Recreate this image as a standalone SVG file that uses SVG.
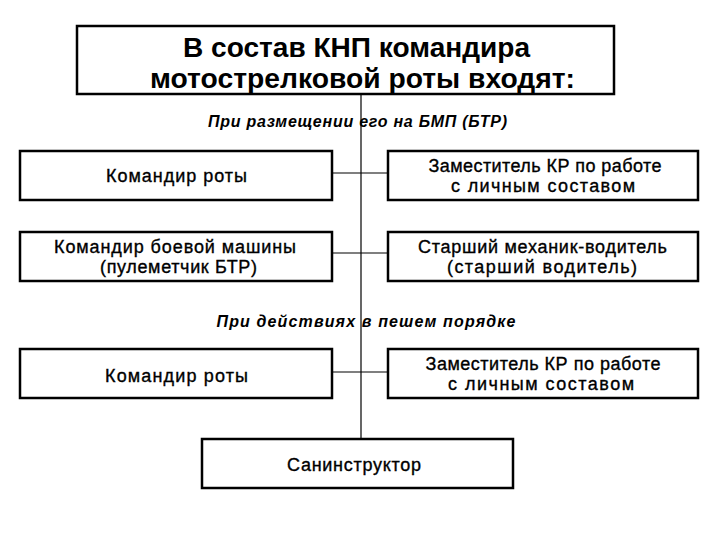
<svg xmlns="http://www.w3.org/2000/svg" width="720" height="540" viewBox="0 0 720 540">
<style>
.box{fill:#fff;stroke:#000;stroke-width:2.5}
.t{font-family:"Liberation Sans",Arial,sans-serif;font-size:18px;fill:#000;stroke:#000;stroke-width:0.35;text-anchor:middle}
.title{font-family:"Liberation Sans",Arial,sans-serif;font-size:28px;font-weight:bold;fill:#000;text-anchor:middle}
.lbl{font-family:"Liberation Sans",Arial,sans-serif;font-size:16px;font-style:italic;font-weight:bold;fill:#000;text-anchor:middle}
.c{stroke:#000;stroke-width:1.2;fill:none}
</style>
<rect width="720" height="540" fill="#fff"/>
<g id="connectors">
<line class="c" x1="361" y1="93" x2="361" y2="439"/>
<line class="c" x1="332" y1="173" x2="388" y2="173"/>
<line class="c" x1="332" y1="253" x2="388" y2="253"/>
<line class="c" x1="332" y1="372" x2="388" y2="372"/>
</g>
<g id="title">
<rect class="box" x="77" y="26" width="537" height="68"/>
<text class="title" x="356.5" y="57" textLength="347" lengthAdjust="spacingAndGlyphs">В состав КНП командира</text>
<text class="title" x="362.5" y="88" textLength="425" lengthAdjust="spacingAndGlyphs">мотострелковой роты входят:</text>
</g>
<g id="label1">
<text class="lbl" x="357.5" y="127" textLength="299">При размещении его на БМП (БТР)</text>
</g>
<g id="n1">
<rect class="box" x="20" y="151" width="312" height="49"/>
<text class="t" x="176.5" y="182" textLength="141">Командир роты</text>
</g>
<g id="n2">
<rect class="box" x="388" y="151" width="310" height="49"/>
<text class="t" x="545" y="172" textLength="233">Заместитель КР по работе</text>
<text class="t" x="543" y="192" textLength="184">с личным составом</text>
</g>
<g id="n3">
<rect class="box" x="20" y="232" width="312" height="49"/>
<text class="t" x="175" y="253" textLength="242">Командир боевой машины</text>
<text class="t" x="178.5" y="273" textLength="157">(пулеметчик БТР)</text>
</g>
<g id="n4">
<rect class="box" x="388" y="232" width="310" height="49"/>
<text class="t" x="542.5" y="253" textLength="249">Старший механик-водитель</text>
<text class="t" x="542" y="273" textLength="190">(старший водитель)</text>
</g>
<g id="label2">
<text class="lbl" x="366" y="327" textLength="299">При действиях в пешем порядке</text>
</g>
<g id="n5">
<rect class="box" x="20" y="349" width="312" height="49"/>
<text class="t" x="176.5" y="382" textLength="143">Командир роты</text>
</g>
<g id="n6">
<rect class="box" x="388" y="349" width="310" height="49"/>
<text class="t" x="543" y="370" textLength="235">Заместитель КР по работе</text>
<text class="t" x="541" y="390" textLength="186">с личным составом</text>
</g>
<g id="n7">
<rect class="box" x="202" y="439" width="311" height="49"/>
<text class="t" x="354" y="471" textLength="134">Санинструктор</text>
</g>
</svg>
